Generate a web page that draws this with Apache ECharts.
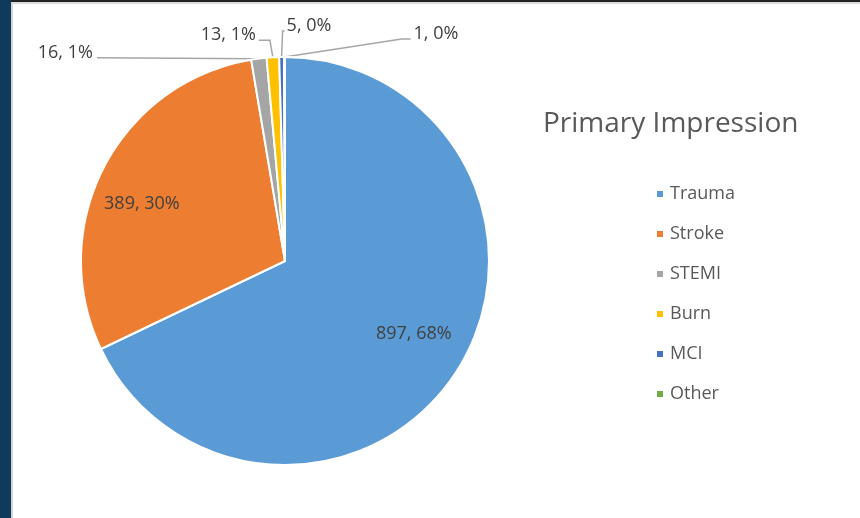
<!DOCTYPE html>
<html>
<head>
<meta charset="utf-8">
<script src="https://cdn.jsdelivr.net/npm/echarts@6/dist/echarts.min.js"></script>
<style>
  html, body { margin: 0; padding: 0; background: #fff; }
  #main { width: 860px; height: 518px; }
</style>
</head>
<body>
<div id="main"></div>
<script>
// 数据
const categories = ['Trauma', 'Stroke', 'STEMI', 'Burn', 'MCI', 'Other']
const counts = [897, 389, 16, 13, 5, 1]
const sliceColors = ['#5B9BD5', '#ED7D31', '#A5A5A5', '#FFC000', '#4472C4', '#70AD47']

const cx = 285
const cy = 261

// 外部小标签相对扇区外缘锚点的偏移 (仿 Excel 的引导线)
const outerLabelPos = {
  2: { dx: -166, dy: -6, align: 'right' },
  3: { dx: -17, dy: -22, align: 'right' },
  4: { dx: 5, dy: -31, align: 'left' },
  5: { dx: 129, dy: -23, align: 'left' }
}
// 内部标签微调
const innerShift = {
  0: { dx: 0, dy: -8 },
  1: { dx: -8, dy: 13 }
}

const chart = echarts.init(document.getElementById('main'))

const pieData = categories.map(function (name, i) {
  const big = counts[i] > 100
  return {
    name: name,
    value: counts[i],
    itemStyle: { color: sliceColors[i] },
    label: { position: big ? 'inside' : 'outside' },
    labelLine: { show: !big }
  }
})

chart.setOption({
  animation: false,
  title: {
    text: 'Primary Impression',
    left: 538,
    top: 105,
    textStyle: {
      fontFamily: 'Open Sans',
      fontWeight: 'normal',
      fontSize: 28,
      color: '#595959'
    }
  },
  legend: {
    orient: 'vertical',
    left: 650,
    top: 180,
    itemWidth: 8,
    itemHeight: 8,
    itemGap: 22,
    icon: 'rect',
    textStyle: {
      fontFamily: 'Open Sans',
      fontSize: 18,
      color: '#595959',
      padding: [0, 0, 0, 1]
    },
    data: categories
  },
  graphic: [
    // 左侧深色边条和顶部网格线
    { type: 'rect', shape: { x: 0, y: 0, width: 11, height: 518 }, style: { fill: '#0F3A5E' } },
    { type: 'rect', shape: { x: 11, y: 0, width: 2, height: 518 }, style: { fill: '#D4D4D4' } },
    { type: 'rect', shape: { x: 11, y: 0, width: 849, height: 2 }, style: { fill: '#222' } },
    { type: 'rect', shape: { x: 11, y: 2, width: 849, height: 2 }, style: { fill: '#DADADA' } }
  ],
  series: [
    {
      name: 'Primary Impression',
      type: 'pie',
      center: [cx, cy],
      radius: 204,
      startAngle: 90,
      clockwise: true,
      avoidLabelOverlap: false,
      itemStyle: {
        borderColor: '#fff',
        borderWidth: 2
      },
      label: {
        formatter: '{c}, {d}%',
        fontFamily: 'Open Sans',
        fontSize: 18,
        color: '#404040'
      },
      percentPrecision: 0,
      labelLine: {
        length: 10,
        length2: 10,
        lineStyle: { color: '#A6A6A6', width: 1.5 }
      },
      labelLayout: function (params) {
        const i = params.dataIndex
        const lr = params.labelRect
        if (i < 2) {
          // 内部标签往外移一些
          const lx = lr.x + lr.width / 2
          const ly = lr.y + lr.height / 2
          return {
            dx: (lx - cx) * 0.45 + innerShift[i].dx,
            dy: (ly - cy) * 0.45 + innerShift[i].dy
          }
        }
        const p = outerLabelPos[i]
        const a = params.labelLinePoints[0]
        const x = a[0] + p.dx
        const y = a[1] + p.dy
        const lineY = y + 5
        let pts
        if (i === 2) {
          pts = [a, [a[0] - 1, lineY + 1], [x + 4, lineY]]
        } else if (i === 3) {
          pts = [a, [a[0] - 3, lineY], [x + 3, lineY]]
        } else if (i === 4) {
          pts = [a, [a[0] + 1, lineY], [x - 2, lineY]]
        } else {
          pts = [a, [x - 12, lineY], [x - 3, lineY]]
        }
        return {
          x: x,
          y: y,
          align: p.align,
          verticalAlign: 'middle',
          labelLinePoints: pts
        }
      },
      data: pieData
    }
  ]
})
</script>
</body>
</html>
